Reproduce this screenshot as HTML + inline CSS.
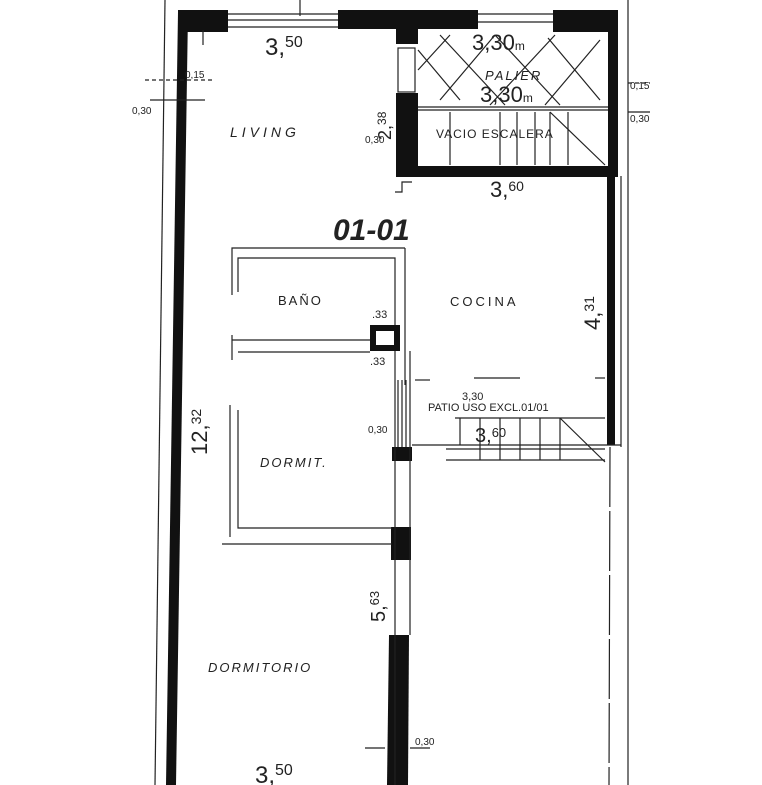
<!DOCTYPE html>
<html><head><meta charset="utf-8"><style>
html,body{margin:0;padding:0;background:#fff}
svg{display:block}
text{font-family:"Liberation Sans",sans-serif;fill:#222}
</style></head><body>
<svg width="762" height="785" viewBox="0 0 762 785" xmlns="http://www.w3.org/2000/svg">
<g fill="#111">
<!-- left outer wall (slightly slanted) -->
<polygon points="178,12 188,12 176,785 166,785"/>
<!-- top walls -->
<rect x="178" y="10" width="50" height="22"/>
<rect x="338" y="10" width="140" height="19"/>
<rect x="553" y="10" width="65" height="22"/>
<!-- palier right wall -->
<rect x="608" y="10" width="10" height="166"/>
<!-- wall living/palier -->
<rect x="396" y="28" width="22" height="16"/>
<rect x="396" y="93" width="22" height="84"/>
<!-- horizontal below escalera -->
<rect x="396" y="166" width="222" height="11"/>
<!-- cocina right wall -->
<rect x="607" y="176" width="8" height="269"/>
<!-- pillar -->
<rect x="370" y="325" width="30" height="26"/>
<!-- middle wall black segments -->
<rect x="392" y="447" width="20" height="14"/>
<rect x="391" y="527" width="20" height="33"/>
<polygon points="389,635 409,635 408,785 387,785"/>
</g>
<rect x="376" y="331" width="18" height="14" fill="#fff"/>
<g stroke="#222" stroke-width="1.2" fill="none">
<!-- dimension lines -->
<line x1="165" y1="0" x2="155" y2="785"/>
<line x1="628" y1="0" x2="628" y2="785"/>
<line x1="621" y1="176" x2="621" y2="447"/>
<line x1="610" y1="447" x2="609" y2="785" stroke-dasharray="60 4"/>
<!-- windows top -->
<line x1="228" y1="14" x2="338" y2="14"/><line x1="228" y1="20" x2="338" y2="20"/><line x1="228" y1="27" x2="338" y2="27"/>
<line x1="478" y1="14" x2="553" y2="14"/><line x1="478" y1="22" x2="553" y2="22"/>
<line x1="300" y1="0" x2="300" y2="16"/>
<line x1="203" y1="30" x2="203" y2="45"/>
<rect x="398" y="48" width="17" height="44"/>
<!-- stair -->
<line x1="418" y1="107" x2="608" y2="107"/><line x1="418" y1="110" x2="608" y2="110"/>
<line x1="450" y1="112" x2="450" y2="165"/><line x1="500" y1="112" x2="500" y2="165"/>
<line x1="517" y1="112" x2="517" y2="165"/><line x1="535" y1="112" x2="535" y2="165"/>
<line x1="550" y1="112" x2="550" y2="165"/><line x1="568" y1="112" x2="568" y2="165"/>
<line x1="550" y1="112" x2="605" y2="165"/>
<!-- palier diagonals -->
<line x1="418" y1="50" x2="460" y2="100"/><line x1="440" y1="35" x2="505" y2="105"/>
<line x1="495" y1="35" x2="560" y2="105"/><line x1="548" y1="38" x2="600" y2="100"/>
<line x1="440" y1="100" x2="495" y2="35"/><line x1="490" y1="105" x2="555" y2="35"/>
<line x1="545" y1="105" x2="600" y2="40"/><line x1="418" y1="70" x2="450" y2="35"/>
<!-- baño -->
<polyline points="232,295 232,248 405,248"/>
<polyline points="238,292 238,258 395,258 395,325"/>
<line x1="405" y1="248" x2="405" y2="385"/>
<line x1="232" y1="340" x2="370" y2="340"/><line x1="238" y1="352" x2="370" y2="352"/>
<line x1="232" y1="335" x2="232" y2="360"/>
<!-- middle wall thin -->
<line x1="395" y1="351" x2="395" y2="785"/>
<line x1="410" y1="351" x2="410" y2="635"/>
<line x1="398" y1="380" x2="398" y2="447"/><line x1="402" y1="380" x2="402" y2="447"/><line x1="406" y1="380" x2="406" y2="447"/>
<!-- dormit -->
<polyline points="230,405 230,537"/>
<polyline points="238,410 238,528 392,528"/>
<line x1="222" y1="544" x2="392" y2="544"/>
<!-- patio -->
<line x1="412" y1="445" x2="621" y2="445"/>
<line x1="446" y1="449" x2="605" y2="449" />
<line x1="446" y1="460" x2="605" y2="460"/>
<line x1="455" y1="418" x2="605" y2="418"/>
<line x1="474" y1="378" x2="520" y2="378"/>
<line x1="595" y1="378" x2="605" y2="378"/>
<line x1="460" y1="418" x2="460" y2="445"/><line x1="480" y1="418" x2="480" y2="460"/><line x1="500" y1="418" x2="500" y2="460"/>
<line x1="520" y1="418" x2="520" y2="460"/><line x1="540" y1="418" x2="540" y2="460"/><line x1="560" y1="418" x2="560" y2="460"/>
<line x1="560" y1="418" x2="605" y2="462"/>
<line x1="415" y1="380" x2="430" y2="380"/>
<!-- small dims -->
<line x1="145" y1="80" x2="215" y2="80" stroke-dasharray="4 3"/>
<line x1="150" y1="100" x2="205" y2="100"/>
<line x1="628" y1="83" x2="650" y2="83" stroke-dasharray="4 3"/>
<line x1="628" y1="112" x2="650" y2="112"/>
<polyline points="395,192 402,192 402,182 412,182"/>
<line x1="365" y1="748" x2="385" y2="748"/><line x1="410" y1="748" x2="430" y2="748"/>
</g>
<g font-size="13">
<text x="265" y="55" font-size="24">3,<tspan font-size="16" dy="-8">50</tspan></text>
<text x="230" y="137" font-size="14" letter-spacing="4" font-style="italic">LIVING</text>
<text x="185" y="78" font-size="10">0,15</text>
<text x="132" y="114" font-size="10">0,30</text>
<text x="365" y="143" font-size="10">0,30</text>
<text x="630" y="89" font-size="10">0,15</text>
<text x="630" y="122" font-size="10">0,30</text>
<text x="472" y="50" font-size="22">3,30<tspan font-size="12">m</tspan></text>
<text x="485" y="80" font-size="13" letter-spacing="2" font-style="italic">PALIER</text>
<text x="480" y="102" font-size="22">3,30<tspan font-size="12">m</tspan></text>
<text x="436" y="138" font-size="12" letter-spacing="1">VACIO ESCALERA</text>
<text x="490" y="197" font-size="22">3,<tspan font-size="14" dy="-6">60</tspan></text>
<text x="333" y="240" font-size="30" font-style="italic" font-weight="bold">01-01</text>
<text x="278" y="305" font-size="13" letter-spacing="2">BAÑO</text>
<text x="450" y="306" font-size="13" letter-spacing="3">COCINA</text>
<text x="372" y="318" font-size="11">.33</text>
<text x="370" y="365" font-size="11">.33</text>
<text x="260" y="467" font-size="13" letter-spacing="2" font-style="italic">DORMIT.</text>
<text x="208" y="672" font-size="13" letter-spacing="2" font-style="italic">DORMITORIO</text>
<text x="428" y="411" font-size="11">PATIO USO EXCL.01/01</text>
<text x="462" y="400" font-size="11">3,30</text>
<text x="475" y="442" font-size="20">3,<tspan font-size="13" dy="-5">60</tspan></text>
<text x="368" y="433" font-size="10">0,30</text>
<text x="415" y="745" font-size="10">0,30</text>
<text x="255" y="783" font-size="24">3,<tspan font-size="16" dy="-8">50</tspan></text>
<text transform="translate(207,455) rotate(-90)" font-size="22">12,<tspan font-size="14" dy="-6">32</tspan></text>
<text transform="translate(385,622) rotate(-90)" font-size="20">5,<tspan font-size="13" dy="-6">63</tspan></text>
<text transform="translate(600,330) rotate(-90)" font-size="22">4,<tspan font-size="14" dy="-6">31</tspan></text>
<text transform="translate(391,140) rotate(-90)" font-size="18">2,<tspan font-size="12" dy="-5">38</tspan></text>
</g>
</svg>
</body></html>
